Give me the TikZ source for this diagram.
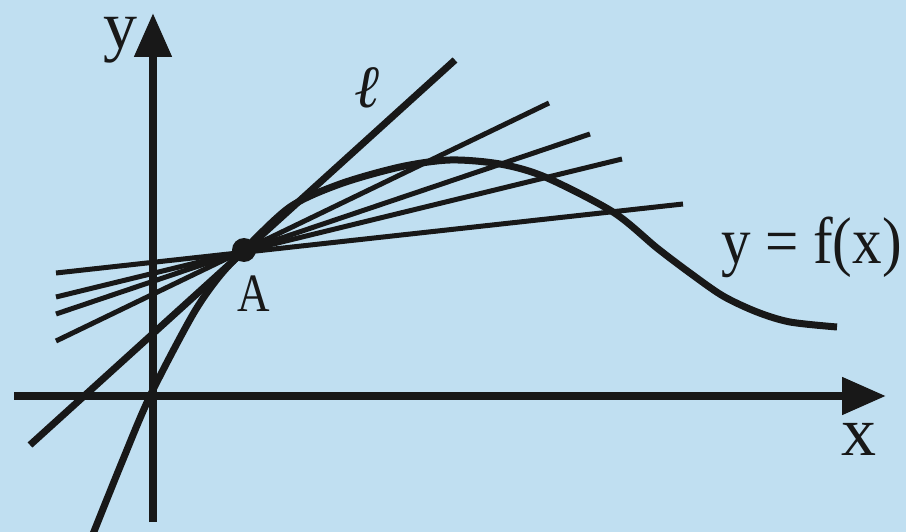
\documentclass[tikz,border=0pt]{standalone}
\usepackage{fontspec}
\setmainfont{LiberationSerif}[Extension=.ttf,UprightFont=*-Regular,ItalicFont=*-Italic,BoldFont=*-Bold,BoldItalicFont=*-BoldItalic]
\usetikzlibrary{arrows.meta}
\definecolor{bg}{RGB}{192,223,241}
\definecolor{ink}{RGB}{24,24,24}
\begin{document}
\begin{tikzpicture}[x=1pt,y=-1pt,
  axisline/.style={ink,line width=8pt,-{Triangle[length=44pt,width=36pt]}},
  curveline/.style={ink,line width=7pt},
  tangentline/.style={ink,line width=7pt},
  secantline/.style={ink,line width=5pt},
  lbl/.style={inner sep=0pt,outer sep=0pt,text=ink},
  dotnode/.style={circle,fill=ink,minimum size=24pt,inner sep=0pt}]
\fill[bg] (0,0) rectangle (906,532);
\useasboundingbox (0,0) rectangle (906,532);

% axes
\coordinate (xs) at (14,396);
\coordinate (xe) at (886,396);
\coordinate (ys) at (153,522);
\coordinate (ye) at (153,13);
\draw[axisline] (xs) -- (xe);
\draw[axisline] (ys) -- (ye);

% secant lines through A
\coordinate (s1a) at (56,273);  \coordinate (s1b) at (683,204);
\coordinate (s2a) at (56,297);  \coordinate (s2b) at (622,159);
\coordinate (s3a) at (56,314);  \coordinate (s3b) at (590,134);
\coordinate (s4a) at (56,341);  \coordinate (s4b) at (549,103);
\draw[secantline] (s1a) -- (s1b);
\draw[secantline] (s2a) -- (s2b);
\draw[secantline] (s3a) -- (s3b);
\draw[secantline] (s4a) -- (s4b);

% tangent l
\coordinate (ta) at (30,445);
\coordinate (tb) at (455,60);
\draw[tangentline] (ta) -- (tb);

% curve
\draw[curveline] plot[smooth,tension=0.5] coordinates {
  (93,534) (122,462) (150,396) (192,316) (218,278) (244,250) (290,207)
  (340,184) (400,167) (450,160) (500,164) (545,177) (613,212) (657,248)
  (690,273) (723,296) (757,312) (790,322) (837,327)};

% point A
\node[dotnode] (A) at (244,250) {};

% labels
\node[lbl,anchor=base west] (ylab) at (103,49) {\fontsize{68}{78}\selectfont y};
\node[lbl,anchor=base west] (xlab) at (841,455) {\fontsize{70}{80}\selectfont x};
\node[lbl,anchor=base west] (Alab) at (237,312) {\scalebox{1}[1.2]{\fontsize{45}{50}\selectfont A}};
\node[lbl,anchor=base west] (flab) at (721,263) {\scalebox{1}[1.12]{\fontsize{59}{66}\selectfont y = f(x)}};
\node[lbl,anchor=base west] (llab) at (354,108) {\fontsize{60}{66}\selectfont\itshape ℓ};
\end{tikzpicture}
\end{document}
